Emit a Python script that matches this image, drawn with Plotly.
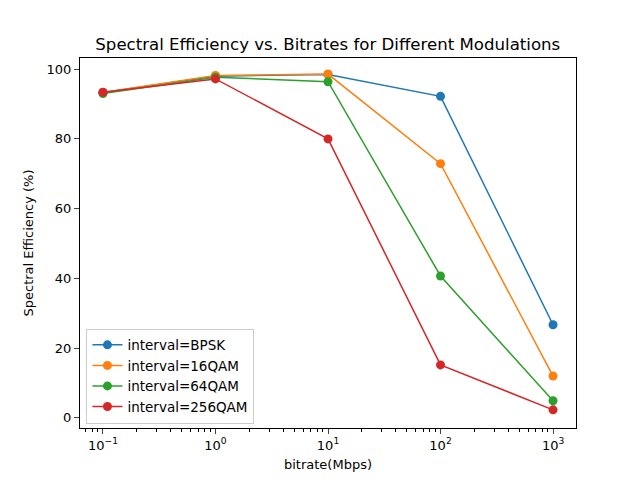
import plotly.graph_objects as go

# bitrate values (Mbps) and spectral efficiency (%) per modulation
bitrates = [0.1, 1, 10, 100, 1000]
bpsk = [93.3, 98.0, 98.5, 92.2, 26.7]
qam16 = [93.3, 98.2, 98.6, 72.9, 12.0]
qam64 = [93.0, 97.7, 96.4, 40.7, 4.9]
qam256 = [93.4, 97.2, 80.0, 15.2, 2.3]

series = [("BPSK", bpsk, "#1f77b4"), ("16QAM", qam16, "#ff7f0e"),
          ("64QAM", qam64, "#2ca02c"), ("256QAM", qam256, "#d62728")]

tick_vals = [0.1, 1, 10, 100, 1000]
tick_text = ["10<sup>−1</sup>", "10<sup>0</sup>", "10<sup>1</sup>", "10<sup>2</sup>", "10<sup>3</sup>"]

fig = go.Figure()
for name, vals, col in series:
    fig.add_trace(go.Scatter(x=bitrates, y=vals, mode="lines+markers", name="interval=" + name,
                             line=dict(color=col, width=1.5), marker=dict(color=col, size=9)))

# page body adds an 8px offset, so the figure is a bit smaller than the window
fig.update_layout(
    width=632, height=472,
    paper_bgcolor="white", plot_bgcolor="white",
    font=dict(family="DejaVu Sans", size=13, color="black"),
    margin=dict(l=72, r=64, t=50, b=52),
    title=dict(text="Spectral Efficiency vs. Bitrates for Different Modulations",
               x=0.506, xanchor="center", y=0.924, yanchor="middle", font=dict(size=16.6)),
    legend=dict(x=0.013, y=0.012, xanchor="left", yanchor="bottom",
                bordercolor="#cccccc", borderwidth=1, bgcolor="rgba(255,255,255,0.8)",
                font=dict(size=13.5), tracegroupgap=0),
    showlegend=True,
)
fig.update_xaxes(type="log", range=[-1.204, 3.204], tickmode="array", tickvals=tick_vals,
                 ticktext=tick_text, ticks="outside", ticklen=5, showgrid=False, zeroline=False,
                 showline=True, linecolor="black", linewidth=1, mirror=True, automargin=False,
                 tickfont=dict(size=13),
                 minor=dict(ticks="outside", ticklen=2.5, dtick="D1", showgrid=False, tickcolor="black"),
                 title=dict(text="bitrate(Mbps)", standoff=8, font=dict(size=13)))
fig.update_yaxes(range=[-2.9, 103.2], tickvals=[0, 20, 40, 60, 80, 100], ticks="outside", ticklen=5,
                 showgrid=False, zeroline=False, showline=True, linecolor="black", linewidth=1,
                 mirror=True, automargin=False, tickfont=dict(size=13),
                 title=dict(text="Spectral Efficiency (%)", standoff=10, font=dict(size=13)))

fig.write_html("out.html")
